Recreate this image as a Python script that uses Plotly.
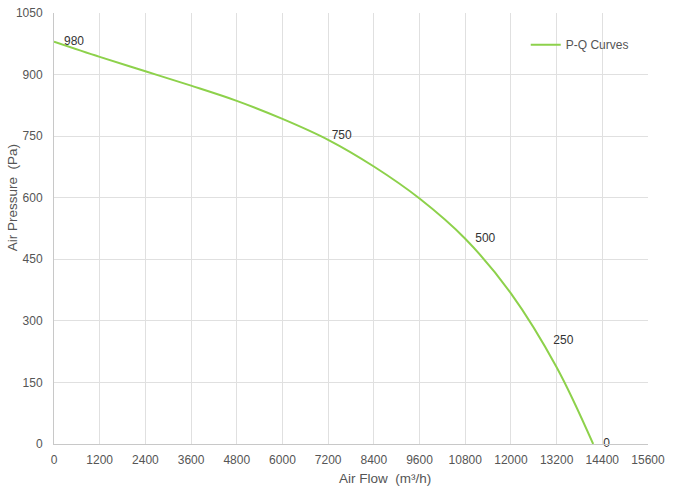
import plotly.graph_objects as go

# P-Q curve
air_flow = [0, 1200, 2400, 3600, 4800, 6000, 7200, 8400, 9600, 10800, 12000, 13200, 14160]
pressure = [980, 943, 908, 873, 836, 792, 741, 676, 598, 500, 367, 187, 0]

# labelled points on the curve
label_flow = [0, 7030, 10800, 12850, 14160]
label_pressure = [980, 750, 500, 250, 0]
label_text = ["980", "750", "500", "250", "0"]

x_ticks = list(range(0, 15601, 1200))
y_ticks = list(range(0, 1051, 150))

fig = go.Figure()
fig.add_trace(go.Scatter(
    x=air_flow, y=pressure, name="P-Q Curves", mode="lines",
    line=dict(color="#8DD14B", width=2, shape="spline", smoothing=1),
))
fig.add_trace(go.Scatter(
    x=label_flow, y=label_pressure, mode="text", showlegend=False,
    text=["   " + t for t in label_text], textposition="middle right",
    textfont=dict(size=12, color="#333"), cliponaxis=False, hoverinfo="skip",
))

fig.update_layout(
    width=673, height=490,
    margin=dict(l=54, r=25, t=13, b=46),
    paper_bgcolor="white", plot_bgcolor="white",
    font=dict(family="Liberation Sans, Arial, sans-serif", size=12, color="#555"),
    showlegend=True,
    legend=dict(x=0.976, y=0.96, xanchor="right", yanchor="top",
                bgcolor="rgba(0,0,0,0)", font=dict(size=12, color="#555")),
)
fig.update_xaxes(
    range=[0, 15600], tickvals=x_ticks, tickformat="d", ticks="", ticklabelstandoff=5,
    showgrid=True, gridcolor="#e0e0e0", gridwidth=1, automargin=False,
    showline=True, linecolor="#c8c8c8", zeroline=False,
)
fig.update_yaxes(
    range=[0, 1050], tickvals=y_ticks, tickformat="d", ticks="", ticklabelstandoff=8,
    showgrid=True, gridcolor="#e0e0e0", gridwidth=1, automargin=False,
    showline=True, linecolor="#c8c8c8", zeroline=False,
)

# axis titles sit off-centre in the original, so place them as annotations
fig.add_annotation(text="Air Flow  (m³/h)", xref="paper", yref="paper",
                   x=0.557, y=-0.081, xanchor="center", yanchor="middle",
                   showarrow=False, font=dict(size=13.5, color="#555"))
fig.add_annotation(text="Air Pressure  (Pa)", xref="paper", yref="paper",
                   x=-0.07, y=0.571, xanchor="center", yanchor="middle",
                   textangle=-90, showarrow=False, font=dict(size=13.5, color="#555"))

# drop the default page margin so the figure sits at the window corner
fig.write_html("out.html", config={"displayModeBar": False},
               post_script="document.body.style.margin='0';")
